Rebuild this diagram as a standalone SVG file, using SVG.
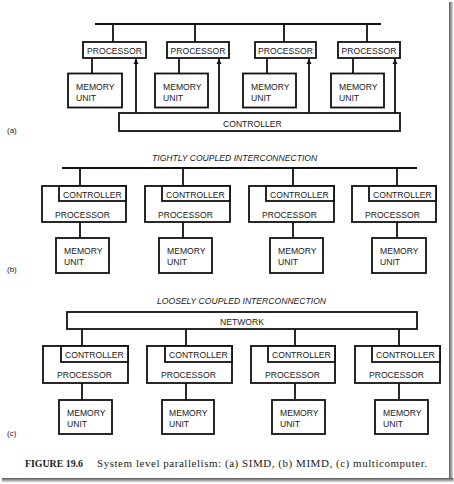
<svg xmlns="http://www.w3.org/2000/svg" width="454" height="484" viewBox="0 0 454 484">
<defs>
<style>
.b{fill:#fff;stroke:#111;stroke-width:1.8}
.l{fill:none;stroke:#111;stroke-width:1.8}
.t{font-family:"Liberation Sans",Arial,sans-serif;font-size:8.6px;fill:#1a1a1a}
.h{font-family:"Liberation Sans",Arial,sans-serif;font-size:8.6px;font-style:italic;fill:#1a1a1a}
.s{font-family:"Liberation Sans",Arial,sans-serif;font-size:8px;fill:#1a1a1a}
.c{font-family:"Liberation Serif","Times New Roman",serif;font-size:11px;fill:#222}
</style>
<marker id="ah" markerUnits="userSpaceOnUse" markerWidth="6" markerHeight="6" refX="5" refY="3" orient="auto">
<path d="M0,0.5 L5,3 L0,5.5 Z" fill="#111"/>
</marker>
<linearGradient id="gr" x1="0" y1="0" x2="1" y2="0">
<stop offset="0" stop-color="#555"/><stop offset="1" stop-color="#eee"/>
</linearGradient>
<linearGradient id="gb" x1="0" y1="0" x2="0" y2="1">
<stop offset="0" stop-color="#555"/><stop offset="1" stop-color="#eee"/>
</linearGradient>
</defs>
<rect width="454" height="484" fill="#fff"/>
<g id="frame">
<rect x="449" y="2" width="4.5" height="480" fill="url(#gr)"/>
<rect x="2" y="478" width="451.5" height="4.5" fill="url(#gb)"/>
</g>

<g id="connectors">
<!-- (a) -->
<line class="l" x1="95" y1="24" x2="381" y2="24" stroke-width="2"/>
<line class="l" x1="113" y1="24" x2="113" y2="42"/>
<line class="l" x1="195" y1="24" x2="195" y2="42"/>
<line class="l" x1="284" y1="24" x2="284" y2="42"/>
<line class="l" x1="367" y1="24" x2="367" y2="42"/>
<line class="l" x1="92" y1="58" x2="92" y2="73.5"/>
<line class="l" x1="179" y1="58" x2="179" y2="73.5"/>
<line class="l" x1="267" y1="58" x2="267" y2="73.5"/>
<line class="l" x1="353" y1="58" x2="353" y2="73.5"/>
<line class="l" x1="136" y1="113" x2="136" y2="59" marker-end="url(#ah)"/>
<line class="l" x1="219" y1="113" x2="219" y2="59" marker-end="url(#ah)"/>
<line class="l" x1="309" y1="113" x2="309" y2="59" marker-end="url(#ah)"/>
<line class="l" x1="395" y1="113" x2="395" y2="59" marker-end="url(#ah)"/>
<!-- (b) -->
<line class="l" x1="62" y1="168" x2="417" y2="168" stroke-width="2"/>
<line class="l" x1="80" y1="168" x2="80" y2="186"/>
<line class="l" x1="183" y1="168" x2="183" y2="186"/>
<line class="l" x1="293" y1="168" x2="293" y2="186"/>
<line class="l" x1="397" y1="168" x2="397" y2="186"/>
<line class="l" x1="80" y1="222" x2="80" y2="238"/>
<line class="l" x1="183" y1="222" x2="183" y2="238"/>
<line class="l" x1="293" y1="222" x2="293" y2="238"/>
<line class="l" x1="397" y1="222" x2="397" y2="238"/>
<!-- (c) -->
<line class="l" x1="82" y1="329" x2="82" y2="346"/>
<line class="l" x1="186" y1="329" x2="186" y2="346"/>
<line class="l" x1="295" y1="329" x2="295" y2="346"/>
<line class="l" x1="399" y1="329" x2="399" y2="346"/>
<line class="l" x1="82" y1="383" x2="82" y2="400"/>
<line class="l" x1="186" y1="383" x2="186" y2="400"/>
<line class="l" x1="295" y1="383" x2="295" y2="400"/>
<line class="l" x1="399" y1="383" x2="399" y2="400"/>
</g>

<!-- (a) SIMD -->
<g id="a-proc1"><rect class="b" x="83" y="42" width="63" height="16"/><text class="t" x="114.5" y="53.5" text-anchor="middle">PROCESSOR</text></g>
<g id="a-proc2"><rect class="b" x="167" y="42" width="62" height="16"/><text class="t" x="198" y="53.5" text-anchor="middle">PROCESSOR</text></g>
<g id="a-proc3"><rect class="b" x="255" y="42" width="61" height="16"/><text class="t" x="285.5" y="53.5" text-anchor="middle">PROCESSOR</text></g>
<g id="a-proc4"><rect class="b" x="338" y="42" width="62" height="16"/><text class="t" x="369" y="53.5" text-anchor="middle">PROCESSOR</text></g>
<g id="a-mem1"><rect class="b" x="68" y="73.5" width="54" height="34"/><text class="t" x="76" y="89.5">MEMORY</text><text class="t" x="76" y="100.5">UNIT</text></g>
<g id="a-mem2"><rect class="b" x="155" y="73.5" width="53" height="34"/><text class="t" x="163" y="89.5">MEMORY</text><text class="t" x="163" y="100.5">UNIT</text></g>
<g id="a-mem3"><rect class="b" x="243" y="73.5" width="53" height="34"/><text class="t" x="251" y="89.5">MEMORY</text><text class="t" x="251" y="100.5">UNIT</text></g>
<g id="a-mem4"><rect class="b" x="331" y="73.5" width="53" height="34"/><text class="t" x="339" y="89.5">MEMORY</text><text class="t" x="339" y="100.5">UNIT</text></g>
<g id="a-controller"><rect class="b" x="119" y="113" width="281" height="18"/><text class="t" x="223" y="126.5">CONTROLLER</text></g>
<text class="s" x="7" y="133">(a)</text>

<!-- (b) MIMD -->
<text class="h" x="152" y="161">TIGHTLY COUPLED INTERCONNECTION</text>
<g id="b-proc1"><rect class="b" x="42" y="186" width="84" height="36"/><rect class="b" x="59" y="186" width="67" height="15"/><text class="t" x="63" y="197.5">CONTROLLER</text><text class="t" x="55" y="217.5">PROCESSOR</text></g>
<g id="b-proc2"><rect class="b" x="145" y="186" width="85" height="36"/><rect class="b" x="162" y="186" width="68" height="15"/><text class="t" x="166" y="197.5">CONTROLLER</text><text class="t" x="158" y="217.5">PROCESSOR</text></g>
<g id="b-proc3"><rect class="b" x="249" y="186" width="85" height="36"/><rect class="b" x="266" y="186" width="68" height="15"/><text class="t" x="270" y="197.5">CONTROLLER</text><text class="t" x="262" y="217.5">PROCESSOR</text></g>
<g id="b-proc4"><rect class="b" x="352" y="186" width="84" height="36"/><rect class="b" x="369" y="186" width="67" height="15"/><text class="t" x="373" y="197.5">CONTROLLER</text><text class="t" x="365" y="217.5">PROCESSOR</text></g>
<g id="b-mem1"><rect class="b" x="56" y="238" width="53" height="35"/><text class="t" x="64" y="254">MEMORY</text><text class="t" x="64" y="265">UNIT</text></g>
<g id="b-mem2"><rect class="b" x="159" y="238" width="53" height="35"/><text class="t" x="167" y="254">MEMORY</text><text class="t" x="167" y="265">UNIT</text></g>
<g id="b-mem3"><rect class="b" x="270" y="238" width="53" height="35"/><text class="t" x="278" y="254">MEMORY</text><text class="t" x="278" y="265">UNIT</text></g>
<g id="b-mem4"><rect class="b" x="372" y="238" width="54" height="35"/><text class="t" x="380" y="254">MEMORY</text><text class="t" x="380" y="265">UNIT</text></g>
<text class="s" x="7" y="272">(b)</text>

<!-- (c) multicomputer -->
<text class="h" x="157" y="304">LOOSELY COUPLED INTERCONNECTION</text>
<g id="c-network"><rect class="b" x="67" y="312" width="350" height="17"/><text class="t" x="220" y="325">NETWORK</text></g>
<g id="c-proc1"><rect class="b" x="43" y="346" width="85" height="37"/><rect class="b" x="61" y="346" width="67" height="16"/><text class="t" x="65" y="358">CONTROLLER</text><text class="t" x="57" y="378">PROCESSOR</text></g>
<g id="c-proc2"><rect class="b" x="147" y="346" width="85" height="37"/><rect class="b" x="165" y="346" width="67" height="16"/><text class="t" x="169" y="358">CONTROLLER</text><text class="t" x="161" y="378">PROCESSOR</text></g>
<g id="c-proc3"><rect class="b" x="251" y="346" width="84" height="37"/><rect class="b" x="268" y="346" width="67" height="16"/><text class="t" x="272" y="358">CONTROLLER</text><text class="t" x="265" y="378">PROCESSOR</text></g>
<g id="c-proc4"><rect class="b" x="355" y="346" width="85" height="37"/><rect class="b" x="372" y="346" width="68" height="16"/><text class="t" x="376" y="358">CONTROLLER</text><text class="t" x="369" y="378">PROCESSOR</text></g>
<g id="c-mem1"><rect class="b" x="59" y="400" width="53" height="34"/><text class="t" x="67" y="416">MEMORY</text><text class="t" x="67" y="427">UNIT</text></g>
<g id="c-mem2"><rect class="b" x="162" y="400" width="52" height="34"/><text class="t" x="169" y="416">MEMORY</text><text class="t" x="169" y="427">UNIT</text></g>
<g id="c-mem3"><rect class="b" x="272" y="400" width="53" height="34"/><text class="t" x="280" y="416">MEMORY</text><text class="t" x="280" y="427">UNIT</text></g>
<g id="c-mem4"><rect class="b" x="375" y="400" width="53" height="34"/><text class="t" x="383" y="416">MEMORY</text><text class="t" x="383" y="427">UNIT</text></g>
<text class="s" x="7" y="436">(c)</text>

<g id="caption">
<text class="c" x="25" y="467" font-weight="bold" textLength="58" lengthAdjust="spacingAndGlyphs">FIGURE 19.6</text>
<text class="c" x="97" y="467" textLength="330" lengthAdjust="spacing">System level parallelism: (a) SIMD, (b) MIMD, (c) multicomputer.</text>
</g>
</svg>
